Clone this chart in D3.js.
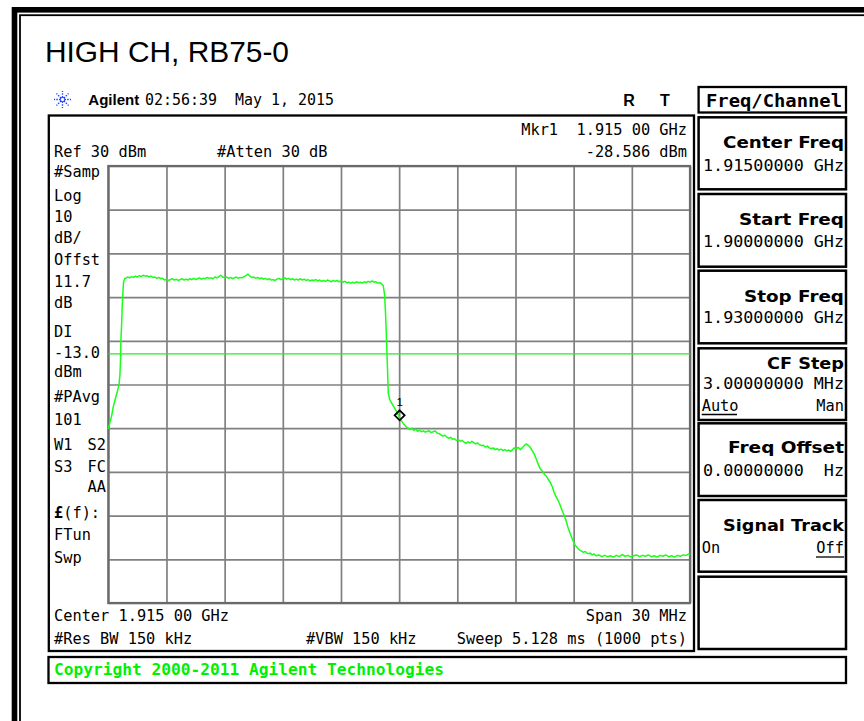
<!DOCTYPE html>
<html><head><meta charset="utf-8">
<script src="https://cdn.jsdelivr.net/npm/d3@7"></script>
<style>body{margin:0;background:#fff}svg{display:block}</style>
</head><body>
<svg id="c" width="864" height="721"></svg>
<script>
// ---------------- data ----------------
const title = "HIGH CH, RB75-0";
const freqTicks = [1900,1903,1906,1909,1912,1915,1918,1921,1924,1927,1930]; // MHz
const levelTicks = [30,20,10,0,-10,-20,-30,-40,-50,-60,-70];               // dBm
const displayLine = -13.0;
const marker = {freq:1915.0, level:-27.4, readFreq:"1.915 00 GHz", readLevel:"-28.586 dBm"};

const risingEdge = [[1900.00,-30.2],[1900.09,-28.6],[1900.18,-27.0],[1900.24,-25.4],[1900.35,-23.5],[1900.46,-21.7],[1900.55,-20.1],[1900.60,-17.8],[1900.63,-14.4],[1900.65,-9.8],[1900.69,-5.9],[1900.72,-1.8],[1900.76,1.6],[1900.79,3.5],[1900.86,4.3]];
const plateau = [[1900.9,4.3],[1901.0,4.6],[1901.1,4.4],[1901.2,4.7],[1901.3,4.5],[1901.4,4.8],[1901.5,4.6],[1901.6,4.9],[1901.7,4.7],[1901.8,5.0],[1901.9,4.8],[1902.0,4.9],[1902.1,4.6],[1902.2,4.8],[1902.3,4.5],[1902.4,4.6],[1902.5,4.3],[1902.6,4.5],[1902.7,4.2],[1902.8,4.3],[1902.9,3.9],[1903.0,4.1],[1903.1,3.8],[1903.2,4.0],[1903.3,4.2],[1903.4,3.9],[1903.5,4.1],[1903.6,3.8],[1903.7,4.0],[1903.8,4.2],[1903.9,3.9],[1904.0,4.1],[1904.1,3.9],[1904.2,4.2],[1904.3,4.0],[1904.4,4.3],[1904.5,4.0],[1904.6,4.2],[1904.7,4.4],[1904.8,4.1],[1904.9,4.3],[1905.0,4.2],[1905.1,4.5],[1905.2,4.3],[1905.3,4.4],[1905.4,4.2],[1905.5,4.6],[1905.6,4.4],[1905.7,4.7],[1905.8,5.0],[1905.9,4.6],[1906.0,4.4],[1906.1,4.6],[1906.2,4.3],[1906.3,4.5],[1906.4,4.2],[1906.5,4.4],[1906.6,4.6],[1906.7,4.3],[1906.8,4.5],[1906.9,4.4],[1907.0,4.7],[1907.1,4.9],[1907.2,5.3],[1907.3,4.8],[1907.4,4.5],[1907.5,4.6],[1907.6,4.3],[1907.7,4.5],[1907.8,4.2],[1907.9,4.4],[1908.0,4.1],[1908.1,4.3],[1908.2,4.0],[1908.3,4.2],[1908.4,3.9],[1908.5,4.0],[1908.6,3.8],[1908.7,4.1],[1908.8,4.3],[1908.9,4.0],[1909.0,4.2],[1909.1,4.4],[1909.2,4.1],[1909.3,4.3],[1909.4,4.0],[1909.5,4.2],[1909.6,3.9],[1909.7,4.1],[1909.8,3.9],[1909.9,4.2],[1910.0,3.9],[1910.1,4.1],[1910.2,3.8],[1910.3,4.0],[1910.4,3.7],[1910.5,3.9],[1910.6,3.8],[1910.7,4.0],[1910.8,3.7],[1910.9,3.9],[1911.0,3.6],[1911.1,3.8],[1911.2,3.6],[1911.3,3.9],[1911.4,3.7],[1911.5,3.5],[1911.6,3.8],[1911.7,3.6],[1911.8,3.8],[1911.9,3.5],[1912.0,3.7],[1912.1,3.4],[1912.2,3.6],[1912.3,3.3],[1912.4,3.4],[1912.5,3.2],[1912.6,3.4],[1912.7,3.2],[1912.8,3.5],[1912.9,3.3],[1913.0,3.4],[1913.1,3.2],[1913.2,3.5],[1913.3,3.3],[1913.4,3.6],[1913.5,3.4],[1913.6,3.7],[1913.7,3.4],[1913.8,3.5],[1913.9,3.2],[1914.0,3.3],[1914.1,3.0]];
const fallingEdge = [[1914.18,2.6],[1914.25,0.5],[1914.30,-4.0],[1914.35,-10.0],[1914.40,-16.5],[1914.44,-22.0],[1914.52,-23.5],[1914.62,-24.3],[1914.75,-25.3],[1914.87,-26.2],[1914.95,-26.9],[1915.00,-27.4],[1915.10,-28.2],[1915.21,-28.9],[1915.35,-29.6],[1915.50,-30.2]];
const shoulder = [[1915.56,-30.3],[1915.65,-30.0],[1915.75,-30.5],[1915.85,-30.2],[1915.95,-30.7],[1916.05,-30.5],[1916.15,-30.8],[1916.25,-30.6],[1916.35,-30.9],[1916.45,-30.7],[1916.55,-30.6],[1916.65,-31.0],[1916.75,-30.8],[1916.85,-30.6],[1916.95,-31.1],[1917.05,-31.2],[1917.15,-31.5],[1917.25,-31.8],[1917.35,-31.6],[1917.45,-32.0],[1917.55,-32.3],[1917.65,-32.1],[1917.75,-32.5],[1917.85,-32.4],[1917.95,-32.8],[1918.05,-32.6],[1918.15,-33.0],[1918.25,-32.8],[1918.35,-33.2],[1918.45,-33.5],[1918.55,-33.1],[1918.65,-33.4],[1918.75,-33.0],[1918.85,-33.3],[1918.95,-33.6],[1919.05,-33.4],[1919.15,-33.8],[1919.25,-34.0],[1919.35,-33.9],[1919.45,-34.3],[1919.55,-34.1],[1919.65,-34.5],[1919.75,-34.7],[1919.85,-34.5],[1919.95,-34.9],[1920.05,-34.7],[1920.15,-35.0],[1920.25,-34.8],[1920.35,-35.1],[1920.45,-34.9],[1920.55,-35.2],[1920.65,-35.0],[1920.75,-35.3],[1920.85,-34.9],[1920.95,-34.5],[1921.05,-34.7],[1921.15,-34.4],[1921.25,-34.9],[1921.35,-34.5],[1921.45,-34.0],[1921.55,-33.6],[1921.65,-33.9],[1921.75,-34.3]];
const skirt = [[1921.85,-35.0],[1921.95,-35.8],[1922.05,-36.8],[1922.15,-38.0],[1922.27,-39.2],[1922.40,-39.9],[1922.50,-40.6],[1922.60,-41.0],[1922.70,-41.8],[1922.78,-42.3],[1922.90,-43.4],[1923.00,-44.8],[1923.13,-46.0],[1923.25,-47.0],[1923.35,-48.2],[1923.47,-49.5],[1923.60,-51.0],[1923.70,-52.6],[1923.82,-54.1],[1923.95,-55.6],[1924.07,-56.7],[1924.20,-57.4],[1924.30,-57.9],[1924.40,-58.1],[1924.50,-58.4],[1924.60,-58.2],[1924.70,-58.7],[1924.84,-58.6]];
const noiseFloor = [[1924.95,-59.0],[1925.05,-58.8],[1925.15,-59.2],[1925.30,-59.0],[1925.45,-59.4],[1925.60,-59.1],[1925.75,-59.4],[1925.90,-59.2],[1926.05,-59.5],[1926.20,-59.1],[1926.35,-59.4],[1926.50,-58.9],[1926.65,-59.3],[1926.80,-59.1],[1926.95,-59.5],[1927.10,-59.2],[1927.25,-59.0],[1927.40,-59.4],[1927.55,-59.1],[1927.70,-59.3],[1927.85,-59.0],[1928.00,-59.4],[1928.15,-59.2],[1928.30,-59.5],[1928.45,-59.1],[1928.60,-59.3],[1928.75,-59.0],[1928.90,-59.4],[1929.05,-59.2],[1929.20,-59.5],[1929.35,-59.1],[1929.50,-59.3],[1929.65,-59.0],[1929.80,-59.1],[1929.95,-58.8],[1930.00,-59.0]];

const headerTime = "02:56:39  May 1, 2015";
const leftLabels = ["#Samp","Log","10","dB/","Offst","11.7","dB","DI","-13.0","dBm","#PAvg","101","W1","S3","","","FTun","Swp"];
const leftLabelsRight = ["","","","","","","","","","","","","S2","FC","AA","","",""];
const softLabels = ["Center Freq","Start Freq","Stop Freq","CF Step","Freq Offset","Signal Track",""];
const softValues = ["1.91500000 GHz","1.90000000 GHz","1.93000000 GHz","3.00000000 MHz","0.00000000  Hz","",""];

// ---------------- layout ----------------
const svg = d3.select("#c");
const mono = "'DejaVu Sans Mono','Liberation Mono',monospace";
const sans = "'Liberation Sans',Arial,sans-serif";
const G = {x0:108.3, x1:690, y0:166, y1:603};
const x = d3.scaleLinear().domain([1900,1930]).range([G.x0,G.x1]);
const y = d3.scaleLinear().domain([-70,30]).range([G.y1,G.y0]);

svg.append("rect").attr("width",864).attr("height",721).attr("fill","#fff");
// outer frames
svg.append("rect").attr("x",14.5).attr("y",9.8).attr("width",900).attr("height",800)
  .attr("fill","none").attr("stroke","#000").attr("stroke-width",5.6);
svg.append("rect").attr("x",20).attr("y",15.2).attr("width",900).attr("height",800)
  .attr("fill","none").attr("stroke","#000").attr("stroke-width",1.8);

function T(xp,yp,s,o={}){
  const t = svg.append("text").attr("x",xp).attr("y",yp).text(s)
    .attr("font-family",o.ff||mono).attr("font-size",o.fs||15.3)
    .attr("fill",o.fill||"#000").attr("text-anchor",o.anchor||"start")
    .attr("font-weight",o.fw||"normal").style("white-space","pre");
  if(o.tl){t.attr("textLength",o.tl).attr("lengthAdjust","spacingAndGlyphs");}
  return t;
}

// title
T(45,61.7,title,{ff:sans,fs:29.5,tl:244});

// header
const star = svg.append("g").attr("transform","translate(62.5,99.5)");
for(let a=0;a<8;a++){
  const ang=a*Math.PI/4;
  star.append("line").attr("x1",Math.cos(ang)*2).attr("y1",Math.sin(ang)*2)
    .attr("x2",Math.cos(ang)*8.5).attr("y2",Math.sin(ang)*8.5)
    .attr("stroke","#2040ff").attr("stroke-width",1.3).attr("stroke-dasharray","1.5,1.2");
}
star.append("circle").attr("r",2.2).attr("fill","none").attr("stroke","#2040ff").attr("stroke-width",1);
T(88.3,105,"Agilent",{ff:sans,fw:"bold",fs:15.5,tl:51});
T(145,105,headerTime,{fs:15,tl:189});
T(629,106,"R",{ff:sans,fw:"bold",fs:16,anchor:"middle"});
T(665,106,"T",{ff:sans,fw:"bold",fs:16,anchor:"middle"});

// screen box
svg.append("rect").attr("x",48.8).attr("y",115.5).attr("width",694-48.8).attr("height",651-115.5)
  .attr("fill","none").attr("stroke","#000").attr("stroke-width",2.3);

// top annotations
T(54,156.7,"Ref 30 dBm");
T(217,156.7,"#Atten 30 dB");
T(687,134.5,"Mkr1  "+marker.readFreq,{anchor:"end"});
T(687,156.7,marker.readLevel,{anchor:"end"});

// left labels
const leftY = [176.7,200.7,221.7,243.3,265,286.7,307.7,336.7,358.3,376.7,401.7,425,450,471.7,491.7,518.3,540,563.3];
leftLabels.forEach((s,i)=>{ if(s) T(54,leftY[i],s); });
leftLabelsRight.forEach((s,i)=>{ if(s) T(106,leftY[i],s,{anchor:"end"}); });
// "£(f):" with bold pound sign
const pf = T(54,leftY[15],"");
pf.append("tspan").attr("font-weight","bold").text("£");
pf.append("tspan").text("(f):");

// grid via axes
const gGrid = svg.append("g");
gGrid.append("g").attr("transform",`translate(0,${G.y1})`)
  .call(d3.axisBottom(x).tickValues(freqTicks).tickSize(-(G.y1-G.y0)).tickFormat(""))
  .call(g=>g.select(".domain").remove())
  .call(g=>g.selectAll("line").attr("stroke","#808080").attr("stroke-width",1.7));
gGrid.append("g").attr("transform",`translate(${G.x0},0)`)
  .call(d3.axisLeft(y).tickValues(levelTicks).tickSize(-(G.x1-G.x0)).tickFormat(""))
  .call(g=>g.select(".domain").remove())
  .call(g=>g.selectAll("line").attr("stroke","#808080").attr("stroke-width",1.7));
svg.append("rect").attr("x",G.x0).attr("y",G.y0).attr("width",G.x1-G.x0).attr("height",G.y1-G.y0)
  .attr("fill","none").attr("stroke","#6a6a6a").attr("stroke-width",2.2);

// display line
svg.append("line").attr("x1",G.x0).attr("x2",G.x1).attr("y1",y(displayLine)).attr("y2",y(displayLine))
  .attr("stroke","#22ee22").attr("stroke-width",1.3);

// trace
const trace = [].concat(risingEdge,plateau,fallingEdge,shoulder,skirt,noiseFloor);
svg.append("path").datum(trace)
  .attr("d",d3.line().x(d=>x(d[0])).y(d=>y(d[1])))
  .attr("fill","none").attr("stroke","#1aff1a").attr("stroke-width",1.5).attr("stroke-linejoin","round");

// marker
const mx = x(marker.freq)+0.5, my = y(marker.level)-1.5;
svg.append("path").attr("d",`M${mx},${my-5}L${mx+5},${my}L${mx},${my+5}L${mx-5},${my}Z`)
  .attr("fill","none").attr("stroke","#000").attr("stroke-width",1.8);
T(mx,my-9,"1",{ff:sans,fs:11.5,anchor:"middle"});

// bottom annotations
T(54,620.7,"Center 1.915 00 GHz");
T(687,620.7,"Span 30 MHz",{anchor:"end"});
T(54,644,"#Res BW 150 kHz");
T(306,644,"#VBW 150 kHz");
T(687,644,"Sweep 5.128 ms (1000 pts)",{anchor:"end"});

// copyright bar
svg.append("rect").attr("x",48.5).attr("y",657).attr("width",846-48.5).attr("height",26)
  .attr("fill","none").attr("stroke","#000").attr("stroke-width",2.3);
T(54,675,"Copyright 2000-2011 Agilent Technologies",{fw:"bold",fs:16.2,fill:"#00f000",tl:390});

// softkey panel
svg.append("rect").attr("x",698.6).attr("y",87).attr("width",846-698.6).attr("height",25.5)
  .attr("fill","none").attr("stroke","#000").attr("stroke-width",2.3);
T(774,107,"Freq/Channel",{fw:"bold",fs:17,anchor:"middle",tl:136});
const keyTops = [117.3,194,270.7,348.3,423.3,500,576.7];
const keyBots = [189.3,266.7,343.3,420,496,571.7,649];
const labelW = [121,105,100,77,116,121,0];
const labelDy = [31,31,31,20.5,29.5,30.5,0];
const valueDy = [53.4,52.7,52.6,41,52.5,0,0];
keyTops.forEach((t,i)=>{
  svg.append("rect").attr("x",698.6).attr("y",t).attr("width",846-698.6).attr("height",keyBots[i]-t)
    .attr("fill","none").attr("stroke","#000").attr("stroke-width",2.5);
  if(softLabels[i]) T(844,t+labelDy[i],softLabels[i],{ff:"'DejaVu Sans',sans-serif",fw:"bold",fs:16.5,anchor:"end",tl:labelW[i]});
  if(softValues[i]) T(844,t+valueDy[i],softValues[i],{fs:16.3,anchor:"end",tl:141});
});
// CF Step Auto/Man
T(701.7,411,"Auto",{fs:15.3});
svg.append("line").attr("x1",701.7).attr("x2",737).attr("y1",414.5).attr("y2",414.5).attr("stroke","#000").attr("stroke-width",1.3);
T(844,411,"Man",{fs:15.3,anchor:"end"});
// Signal Track On/Off
T(701.7,553,"On",{fs:15.3});
T(844,553,"Off",{fs:15.3,anchor:"end"});
svg.append("line").attr("x1",816).attr("x2",844).attr("y1",557).attr("y2",557).attr("stroke","#000").attr("stroke-width",1.3);
</script>
</body></html>
